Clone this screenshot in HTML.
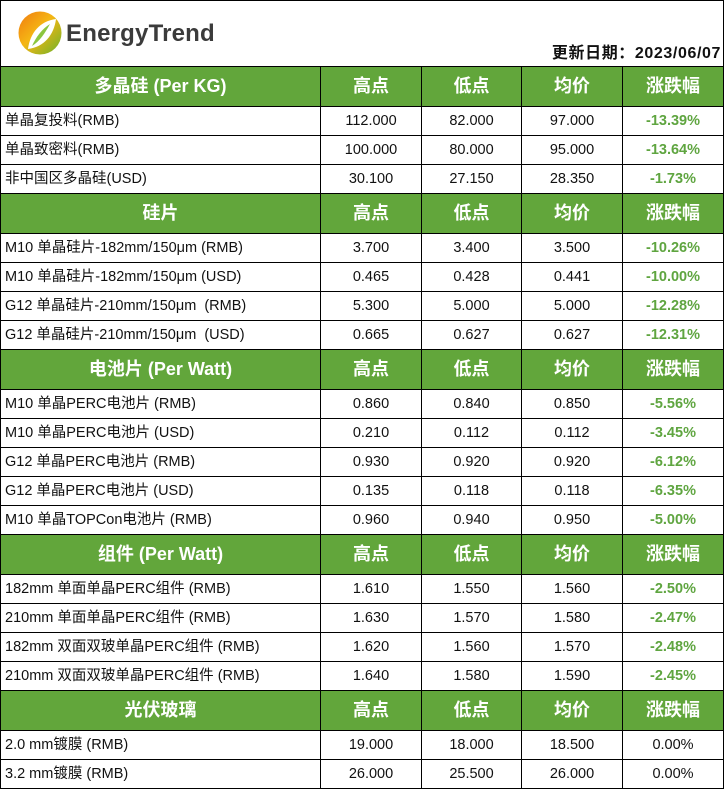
<!DOCTYPE html>
<html><head><meta charset="utf-8"><style>
body{margin:0;width:724px;height:789px;background:#fff;font-family:"Liberation Sans","Noto Sans CJK SC",sans-serif;overflow:hidden}
#wrap{position:absolute;left:0;top:0;width:722px;height:787px;border:1px solid #000;border-bottom:none}
.logo{position:absolute;left:18px;top:11px}
.brand{position:absolute;left:66px;top:20px;font-size:24px;font-weight:bold;color:#3b3b3b;letter-spacing:0.2px}
.date{position:absolute;right:3px;top:44px;font-size:16px;line-height:20px;font-weight:bold;color:#111;letter-spacing:0.6px}
table{position:absolute;left:0;top:66px;border-collapse:collapse;width:723px;table-layout:fixed}
td{border:1px solid #000;padding:0;font-size:14.5px;line-height:28px;color:#111;text-align:center;white-space:nowrap;vertical-align:middle}
tr.h td{height:39px;line-height:39px;background:#62a63b;color:#fff;font-weight:bold;font-size:18px}
tr.d td{height:28px}
td.n{text-align:left;padding-left:4px}
td.p{color:#5fa540;font-weight:bold}
</style></head><body>
<div id="wrap"></div>
<svg class="logo" width="44" height="44" viewBox="0 0 44 44">
<defs><linearGradient id="g" x1="0" y1="0" x2="1" y2="1"><stop offset="0" stop-color="#f07a10"/><stop offset="0.45" stop-color="#f5b614"/><stop offset="1" stop-color="#6ab22a"/></linearGradient></defs>
<circle cx="22" cy="22" r="21.5" fill="url(#g)"/>
<path d="M10 38 C12 22 22 10 38 8 C36 24 26 36 10 38 Z" fill="#fff"/>
<path d="M14 35 C18 26 24 18 32 13 C27 22 22 30 14 35 Z" fill="#8cc63f"/>
</svg>
<div class="brand">EnergyTrend</div>
<div class="date">更新日期：2023/06/07</div>
<table>
<colgroup><col style="width:320px"><col style="width:101px"><col style="width:100px"><col style="width:101px"><col style="width:101px"></colgroup>
<tr class="h"><td>多晶硅 (Per KG)</td><td>高点</td><td>低点</td><td>均价</td><td>涨跌幅</td></tr>
<tr class="d"><td class="n">单晶复投料(RMB)</td><td>112.000</td><td>82.000</td><td>97.000</td><td class="p">-13.39%</td></tr>
<tr class="d"><td class="n">单晶致密料(RMB)</td><td>100.000</td><td>80.000</td><td>95.000</td><td class="p">-13.64%</td></tr>
<tr class="d"><td class="n">非中国区多晶硅(USD)</td><td>30.100</td><td>27.150</td><td>28.350</td><td class="p">-1.73%</td></tr>
<tr class="h"><td>硅片</td><td>高点</td><td>低点</td><td>均价</td><td>涨跌幅</td></tr>
<tr class="d"><td class="n">M10 单晶硅片-182mm/150μm (RMB)</td><td>3.700</td><td>3.400</td><td>3.500</td><td class="p">-10.26%</td></tr>
<tr class="d"><td class="n">M10 单晶硅片-182mm/150μm (USD)</td><td>0.465</td><td>0.428</td><td>0.441</td><td class="p">-10.00%</td></tr>
<tr class="d"><td class="n">G12 单晶硅片-210mm/150μm &nbsp;(RMB)</td><td>5.300</td><td>5.000</td><td>5.000</td><td class="p">-12.28%</td></tr>
<tr class="d"><td class="n">G12 单晶硅片-210mm/150μm &nbsp;(USD)</td><td>0.665</td><td>0.627</td><td>0.627</td><td class="p">-12.31%</td></tr>
<tr class="h"><td>电池片 (Per Watt)</td><td>高点</td><td>低点</td><td>均价</td><td>涨跌幅</td></tr>
<tr class="d"><td class="n">M10 单晶PERC电池片 (RMB)</td><td>0.860</td><td>0.840</td><td>0.850</td><td class="p">-5.56%</td></tr>
<tr class="d"><td class="n">M10 单晶PERC电池片 (USD)</td><td>0.210</td><td>0.112</td><td>0.112</td><td class="p">-3.45%</td></tr>
<tr class="d"><td class="n">G12 单晶PERC电池片 (RMB)</td><td>0.930</td><td>0.920</td><td>0.920</td><td class="p">-6.12%</td></tr>
<tr class="d"><td class="n">G12 单晶PERC电池片 (USD)</td><td>0.135</td><td>0.118</td><td>0.118</td><td class="p">-6.35%</td></tr>
<tr class="d"><td class="n">M10 单晶TOPCon电池片 (RMB)</td><td>0.960</td><td>0.940</td><td>0.950</td><td class="p">-5.00%</td></tr>
<tr class="h"><td>组件 (Per Watt)</td><td>高点</td><td>低点</td><td>均价</td><td>涨跌幅</td></tr>
<tr class="d"><td class="n">182mm 单面单晶PERC组件 (RMB)</td><td>1.610</td><td>1.550</td><td>1.560</td><td class="p">-2.50%</td></tr>
<tr class="d"><td class="n">210mm 单面单晶PERC组件 (RMB)</td><td>1.630</td><td>1.570</td><td>1.580</td><td class="p">-2.47%</td></tr>
<tr class="d"><td class="n">182mm 双面双玻单晶PERC组件 (RMB)</td><td>1.620</td><td>1.560</td><td>1.570</td><td class="p">-2.48%</td></tr>
<tr class="d"><td class="n">210mm 双面双玻单晶PERC组件 (RMB)</td><td>1.640</td><td>1.580</td><td>1.590</td><td class="p">-2.45%</td></tr>
<tr class="h"><td>光伏玻璃</td><td>高点</td><td>低点</td><td>均价</td><td>涨跌幅</td></tr>
<tr class="d"><td class="n">2.0 mm镀膜 (RMB)</td><td>19.000</td><td>18.000</td><td>18.500</td><td>0.00%</td></tr>
<tr class="d"><td class="n">3.2 mm镀膜 (RMB)</td><td>26.000</td><td>25.500</td><td>26.000</td><td>0.00%</td></tr>
</table>
</body></html>
